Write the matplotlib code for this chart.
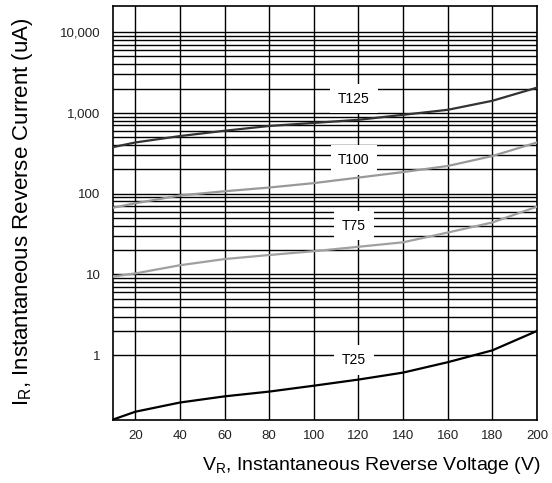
import numpy as np
import matplotlib.pyplot as plt
from matplotlib.ticker import FixedLocator, NullFormatter

plt.rcParams['font.family'] = ['Liberation Sans', 'DejaVu Sans']

# reverse voltage (V) and reverse current (uA)
vr = [10, 20, 40, 60, 80, 100, 120, 140, 160, 180, 200]
ir_t125 = [376, 430, 516, 600, 688, 750, 820, 945, 1090, 1410, 2050]
ir_t100 = [67, 76, 95, 107, 119, 135, 158, 185, 220, 292, 430]
ir_t75 = [9.4, 10.3, 13, 15.5, 17.4, 19.4, 22, 25, 33, 44, 69]
ir_t25 = [0.16, 0.2, 0.26, 0.31, 0.355, 0.42, 0.5, 0.61, 0.82, 1.15, 2.0]

labels = ["T125", "T100", "T75", "T25"]
label_y = [1500, 260, 40, 0.87]
yticks = [1, 10, 100, 1000, 10000]
yticklabels = ["1", "10", "100", "1,000", "10,000"]
xticks = [20, 40, 60, 80, 100, 120, 140, 160, 180, 200]

fig = plt.figure(figsize=(5.52, 4.83), dpi=100)
ax = fig.add_axes([113/552, 63/483, 424/552, 414/483])

ax.set_yscale("log")
ax.set_xlim(10, 200)
ax.set_ylim(0.158, 21000)

# grid: majors plus 2..9 within the four decades 1..10000
minor = [m * 10**d for d in range(0, 4) for m in range(2, 10)]
ax.yaxis.set_major_locator(FixedLocator(yticks))
ax.yaxis.set_minor_locator(FixedLocator(minor))
ax.yaxis.set_minor_formatter(NullFormatter())
ax.set_yticklabels(yticklabels)
ax.set_xticks(xticks)
ax.grid(True, which="both", axis="y", color="black", linewidth=1.0)
ax.grid(True, which="major", axis="x", color="black", linewidth=1.0)
ax.tick_params(which="both", length=0, labelsize=9.5, labelcolor="#222222")
ax.tick_params(axis="y", pad=9)
ax.tick_params(axis="x", pad=7)
for s in ax.spines.values():
    s.set_linewidth(1.2)

ax.plot(vr, ir_t125, color="#333333", linewidth=1.6, zorder=6)
ax.plot(vr, ir_t100, color="#999999", linewidth=1.6, zorder=6)
ax.plot(vr, ir_t75, color="#a0a0a0", linewidth=1.6, zorder=6)
ax.plot(vr, ir_t25, color="black", linewidth=1.6, zorder=6)

for lab, y in zip(labels, label_y):
    ax.text(118, y, lab, fontsize=10, ha="center", va="center", zorder=5,
            bbox=dict(facecolor="white", edgecolor="none", pad=5.5))

ax.set_xlabel(r"V$_\mathregular{R}$, Instantaneous Reverse Voltage (V)", fontsize=14)
ax.set_ylabel(r"I$_\mathregular{R}$, Instantaneous Reverse Current (uA)", fontsize=16)
ax.xaxis.set_label_coords(0.61, -0.085)
ax.yaxis.set_label_coords(-0.185, 0.504)

fig.savefig("out.png", dpi=100)
